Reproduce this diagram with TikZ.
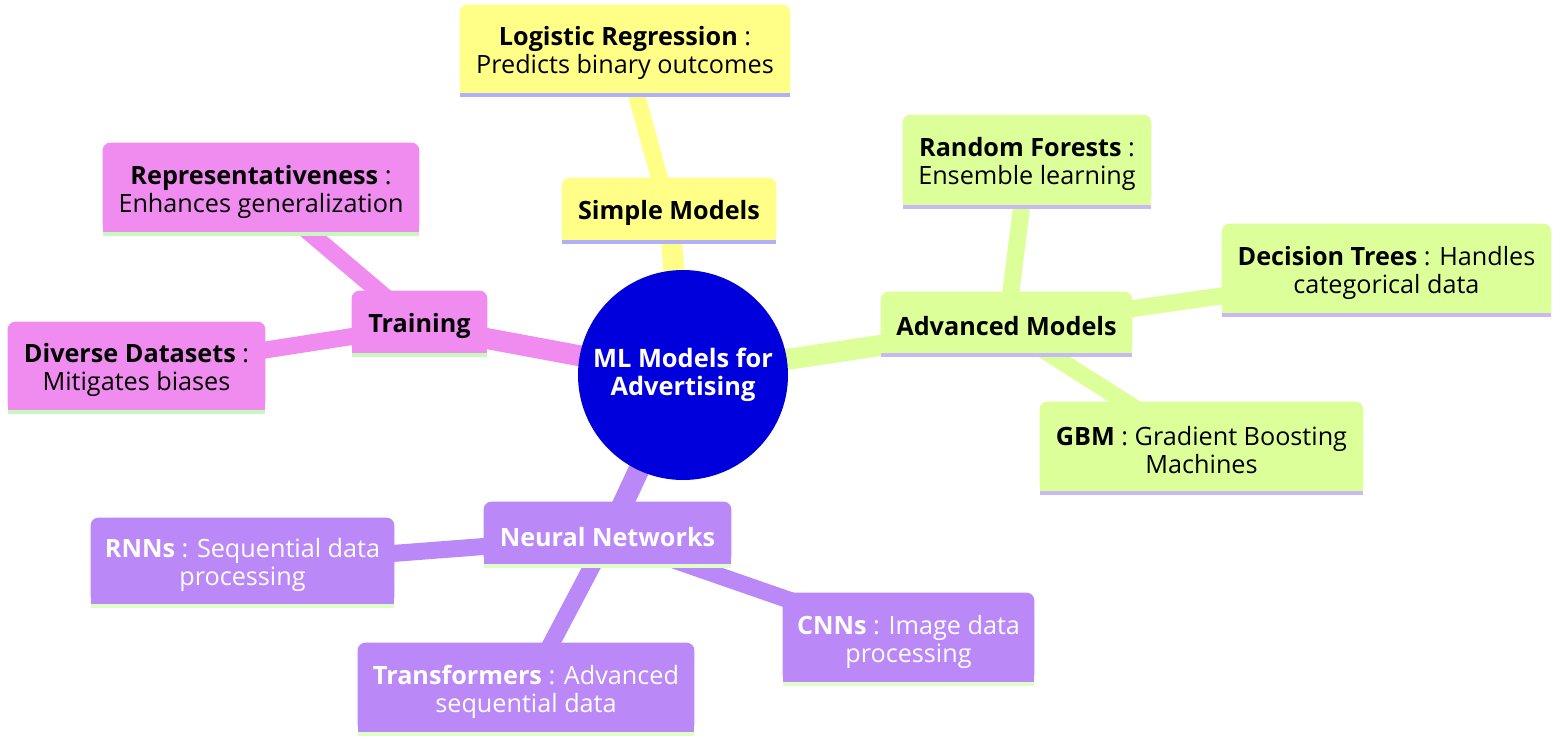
\documentclass[tikz,border=0pt]{standalone}
\usepackage{fontspec}
\setmainfont{Open Sans}
\definecolor{yel}{HTML}{FFFF88}
\definecolor{yelline}{HTML}{B0B0F8}
\definecolor{mmpink}{HTML}{F08CF0}
\definecolor{pinkline}{HTML}{C8F8C0}
\definecolor{grn}{HTML}{DDFF99}
\definecolor{grnline}{HTML}{C8B8F4}
\definecolor{pur}{HTML}{BB88F8}
\definecolor{purline}{HTML}{E0FFC8}
\definecolor{core}{HTML}{0000DD}
\pgfdeclarelayer{bg}
\pgfdeclarelayer{boxes}
\pgfsetlayers{bg,boxes,main}
\tikzset{
  leaf/.style={inner sep=0pt, align=center, yshift=-2pt, font=\fontsize{12.6}{14}\selectfont},
  topic/.style={leaf, font=\fontsize{12.6}{14}\selectfont\bfseries},
  whitetext/.style={text=white},
  mainlink/.style={line width=10.5pt},
  sublink/.style={line width=8.5pt},
}
\begin{document}
\begin{tikzpicture}[x=0.5pt,y=-0.5pt]
\useasboundingbox (0,0) rectangle (1564,740);
% central node
\node[circle, fill=core, minimum size=105pt, inner sep=0pt, text=white, align=center,
      font=\fontsize{12.7}{14.2}\selectfont\bfseries] (core) at (683,375) {ML Models for\\Advertising};
% yellow branch
\node[topic, minimum width=107pt, minimum height=31pt] (simple) at (669,209) {Simple Models};
\node[leaf, minimum width=165pt, minimum height=44pt] (logreg) at (625,49) {\textbf{Logistic Regression} :\\Predicts binary outcomes};
% pink branch
\node[topic, minimum width=67.5pt, minimum height=31pt] (training) at (419.5,322) {Training};
\node[leaf, minimum width=158pt, minimum height=44.5pt] (repr) at (261,187.5) {\textbf{Representativeness} :\\Enhances generalization};
\node[leaf, minimum width=128.5pt, minimum height=44pt] (diverse) at (136.5,366) {\textbf{Diverse Datasets} :\\Mitigates biases};
% green branch
\node[topic, minimum width=125.5pt, minimum height=30.5pt] (adv) at (1006.5,322.5) {Advanced Models};
\node[leaf, minimum width=124pt, minimum height=45pt] (rf) at (1027,160) {\textbf{Random Forests} :\\Ensemble learning};
\node[leaf, minimum width=164.5pt, minimum height=44.5pt] (dt) at (1386.5,268.5) {\textbf{Decision Trees} : Handles\\categorical data};
\node[leaf, minimum width=161.5pt, minimum height=44.5pt] (gbm) at (1201.5,446.5) {\textbf{GBM} : Gradient Boosting\\Machines};
% purple branch
\node[topic, whitetext, minimum width=123.5pt, minimum height=31pt] (nn) at (607.5,533) {Neural Networks};
\node[leaf, whitetext, minimum width=151.5pt, minimum height=43pt] (rnn) at (242.5,561) {\textbf{RNNs} : Sequential data\\processing};
\node[leaf, whitetext, minimum width=168pt, minimum height=44.5pt] (trans) at (526,687.5) {\textbf{Transformers} : Advanced\\sequential data};
\node[leaf, whitetext, minimum width=125.5pt, minimum height=44.5pt] (cnn) at (908.5,637.5) {\textbf{CNNs} : Image data\\processing};
% box backgrounds
\begin{pgfonlayer}{boxes}
\foreach \n/\f/\l in {simple/yel/yelline, logreg/yel/yelline,
    training/mmpink/pinkline, repr/mmpink/pinkline, diverse/mmpink/pinkline,
    adv/grn/grnline, rf/grn/grnline, dt/grn/grnline, gbm/grn/grnline,
    nn/pur/purline, rnn/pur/purline, trans/pur/purline, cnn/pur/purline}{
  \fill[\f, rounded corners=4pt] ([yshift=2pt]\n.south west) rectangle ([yshift=2pt]\n.north east);
  \fill[\f] ([yshift=2pt]\n.south west) rectangle ([yshift=2pt]\n.east);
  \fill[\l] ([yshift=2pt]\n.south west) rectangle (\n.south east);
}
\end{pgfonlayer}
% connectors
\begin{pgfonlayer}{bg}
\draw[mainlink, yel] (core.center) -- (simple.center);
\draw[sublink, yel] (simple.center) -- (logreg.center);
\draw[mainlink, mmpink] (core.center) -- (training.center);
\draw[sublink, mmpink] (training.center) -- (repr.center);
\draw[sublink, mmpink] (training.center) -- (diverse.center);
\draw[mainlink, grn] (core.center) -- (adv.center);
\draw[sublink, grn] (adv.center) -- (rf.center);
\draw[sublink, grn] (adv.center) -- (dt.center);
\draw[sublink, grn] (adv.center) -- (gbm.center);
\draw[mainlink, pur] (core.center) -- (nn.center);
\draw[sublink, pur] (nn.center) -- (rnn.center);
\draw[sublink, pur] (nn.center) -- (trans.center);
\draw[sublink, pur] (nn.center) -- (cnn.center);
\end{pgfonlayer}
\end{tikzpicture}
\end{document}
